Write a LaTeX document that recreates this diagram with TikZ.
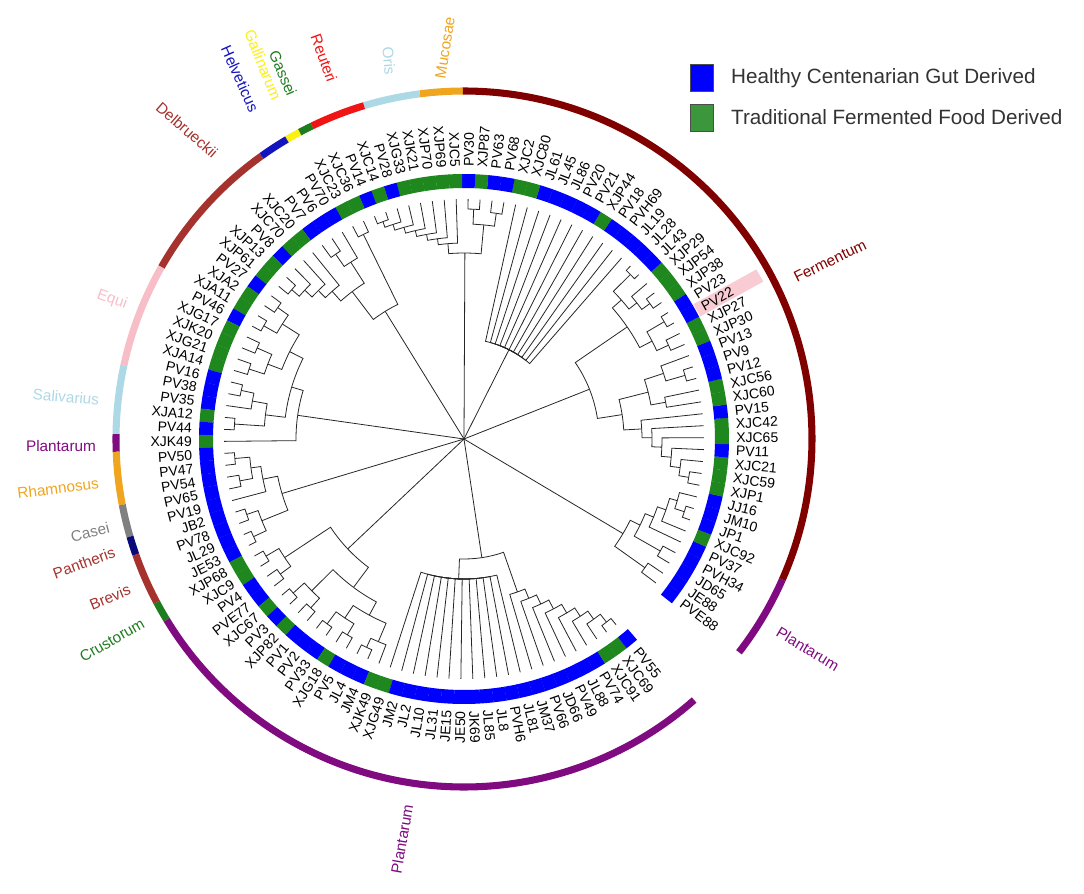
\documentclass[tikz,border=0pt]{standalone}
\usepackage{fontspec}
\setmainfont{Liberation Sans}
\usetikzlibrary{positioning}

\definecolor{gutblue}{RGB}{0,0,255}
\definecolor{foodgreen}{RGB}{30,135,30}
\definecolor{keygreen}{RGB}{60,150,60}
\definecolor{hlpink}{RGB}{248,204,210}
\definecolor{cmucosae}{RGB}{240,165,30}
\definecolor{coris}{RGB}{173,216,230}
\definecolor{creuteri}{RGB}{240,20,20}
\definecolor{cgassei}{RGB}{30,125,30}
\definecolor{cgallin}{RGB}{250,240,20}
\definecolor{chelvet}{RGB}{20,20,190}
\definecolor{cbrown}{RGB}{165,50,45}
\definecolor{cequi}{RGB}{248,190,200}
\definecolor{cplant}{RGB}{128,10,128}
\definecolor{ccasei}{RGB}{128,128,128}
\definecolor{cpanth}{RGB}{10,10,120}
\definecolor{cferm}{RGB}{128,0,0}

% leaf i sits at -36.87 + (i-1)*2.861 degrees
\newcommand{\twig}[4]{%
  \pgfmathsetmacro{\twA}{-36.87+(#1-1)*2.861}%
  \pgfmathsetmacro{\twB}{-36.87+(#3-1)*2.861}%
  \draw[branch] (\twA:#2) -- (\twA:#4) arc[start angle=\twA, end angle=\twB, radius=#4];}
\newcommand{\trunk}[2]{%
  \pgfmathsetmacro{\twA}{-36.87+(#1-1)*2.861}%
  \draw[branch] (0,0) -- (\twA:#2);}

\begin{document}
\begin{tikzpicture}[x=0.75pt,y=0.75pt,
  branch/.style={black!85,line width=0.6pt},
  srcb/.style={fill=gutblue},
  srcg/.style={fill=foodgreen},
  leaf/.style={inner sep=0pt,font=\fontsize{10.5}{12}\selectfont},
  grp/.style={line width=5.3pt},
  grplbl/.style={inner sep=0pt,font=\fontsize{11.5}{13}\selectfont},
  legbox/.style={draw=black!70,minimum width=17pt,minimum height=20pt,inner sep=0pt},
  legtxt/.style={font=\fontsize{15.5}{18}\selectfont,text=black!80}]
\useasboundingbox (-464,-454) rectangle (620,439);

% highlight behind PV22
\fill[hlpink,rotate=28.93] (266,-7) rectangle (338,7);

% source ring and strain names
\foreach \lbl/\src [count=\i] in {PVE88/b,JE88/b,JD65/b,PVH34/b,PV37/b,XJC92/g,JP1/b,JM10/b,JJ16/b,XJP1/g,
  XJC59/g,XJC21/g,PV11/b,XJC65/g,XJC42/g,PV15/b,XJC60/g,XJC56/g,PV12/b,PV9/b,
  PV13/b,XJP30/g,XJP27/g,PV22/b,PV23/b,XJP38/g,XJP54/g,XJP29/g,JL43/b,JL28/b,
  JL19/b,PVH69/b,PV18/b,XJP44/g,PV21/b,PV20/b,JL86/b,JL45/b,JL61/b,XJC80/g,
  XJC2/g,PV68/b,PV63/b,XJP87/g,PV30/b,XJC5/g,XJP69/g,XJP70/g,XJK21/g,XJG33/g,
  PV28/b,XJC14/g,PV14/b,XJC36/g,XJC23/g,PV70/b,PV6/b,PV7/b,XJC20/g,XJC70/g,
  PV8/b,XJP13/g,XJP61/g,PV27/b,XJA2/g,XJA11/g,PV46/b,XJG17/g,XJK20/g,XJG21/g,
  XJA14/g,PV16/b,PV38/b,PV35/b,XJA12/g,PV44/b,XJK49/g,PV50/b,PV47/b,PV54/b,
  PV65/b,PV19/b,JB2/b,PV78/b,JL29/b,JE53/b,XJP68/g,XJC9/g,PV4/b,PVE77/b,
  XJC67/g,PV3/b,XJP82/g,PV1/b,PV2/b,PV33/b,XJG18/g,PV5/b,JL4/b,JM4/b,
  XJK49/g,XJG49/g,JM2/b,JL2/b,JL10/b,JL31/b,JE15/b,JE50/b,JK69/b,JL85/b,
  JL8/b,PVH6/b,JL81/b,JM37/b,PV66/b,JD66/b,PV49/b,JL88/b,PV74/b,XJC91/g,
  XJC69/g,PV55/b}{
  \pgfmathsetmacro{\lang}{-36.87+(\i-1)*2.861}
  \fill[src\src] ({\lang-1.45}:251) arc[start angle={\lang-1.45},end angle={\lang+1.45},radius=251]
    -- ({\lang+1.45}:265) arc[start angle={\lang+1.45},end angle={\lang-1.45},radius=265] -- cycle;
  \pgfmathtruncatemacro{\rt}{(\lang<90)||(\lang>270)}
  \ifnum\rt=1
    \node[leaf,rotate=\lang,anchor=west] (l\i) at (\lang:272) {\lbl};
  \else
    \node[leaf,rotate=\lang-180,anchor=east] (l\i) at (\lang:272) {\lbl};
  \fi
}

% tree: leaf pairs
\foreach \p/\r in {1/222,3/226,7/232,10/228,17/205,19/230,22/225,24/232,26/230,29/234,
  42/228,44/230,52/232,54/228,57/225,62/228,64/228,66/230,
  68/226,70/226,72/228,75/230,78/230,80/228,83/230,85/232,87/230,89/228,91/230,
  93/228,95/230,97/228,99/230,121/232}{
  \twig{\p}{240}{\p+0.5}{\r}
  \twig{\p+1}{240}{\p+0.5}{\r}
}
% clade A
\twig{7.5}{232}{8.25}{222} \twig{9}{240}{8.25}{222}
\twig{6}{240}{7.13}{214} \twig{8.25}{222}{7.13}{214}
\twig{5}{240}{6.06}{205} \twig{7.13}{214}{6.06}{205}
\twig{3.5}{226}{4.78}{196} \twig{6.06}{205}{4.78}{196}
\twig{1.5}{222}{3.14}{185} \twig{4.78}{196}{3.14}{185}
\trunk{3.14}{185}
% clade B
\twig{10.5}{228}{11.25}{218} \twig{12}{240}{11.25}{218}
\twig{11.25}{218}{12.13}{208} \twig{13}{240}{12.13}{208}
\twig{12.13}{208}{13.06}{198} \twig{14}{240}{13.06}{198}
\twig{13.06}{198}{14.03}{188} \twig{15}{240}{14.03}{188}
\twig{14.03}{188}{15.02}{178} \twig{16}{240}{15.02}{178}
\twig{19.5}{230}{20.25}{210} \twig{21}{240}{20.25}{210}
\twig{17.5}{205}{18.88}{190} \twig{20.25}{210}{18.88}{190}
\twig{15.02}{178}{16.95}{160} \twig{18.88}{190}{16.95}{160}
\twig{22.5}{225}{23.5}{212} \twig{24.5}{232}{23.5}{212}
\twig{26.5}{230}{27.25}{220} \twig{28}{240}{27.25}{220}
\twig{27.25}{220}{28.38}{210} \twig{29.5}{234}{28.38}{210}
\twig{23.5}{212}{25.94}{198} \twig{28.38}{210}{25.94}{198}
\twig{16.95}{160}{21.45}{135} \twig{25.94}{198}{21.45}{135}
\trunk{21.45}{135}
% clade C
\foreach \k in {31,...,41} {\twig{\k}{240}{36}{100}}
\trunk{36}{100}
% clade T
\twig{42.5}{228}{43.5}{215} \twig{44.5}{230}{43.5}{215}
\twig{52.5}{232}{51.75}{226} \twig{51}{240}{51.75}{226}
\twig{51.75}{226}{50.88}{220} \twig{50}{240}{50.88}{220}
\twig{50.88}{220}{49.94}{214} \twig{49}{240}{49.94}{214}
\twig{49.94}{214}{48.97}{208} \twig{48}{240}{48.97}{208}
\twig{48.97}{208}{47.98}{202} \twig{47}{240}{47.98}{202}
\twig{47.98}{202}{46.99}{196} \twig{46}{240}{46.99}{196}
\twig{43.5}{215}{45.25}{186} \twig{46.99}{196}{45.25}{186}
\trunk{45.25}{186}
% clade U
\twig{62.5}{228}{61.75}{218} \twig{61}{240}{61.75}{218}
\twig{61.75}{218}{60.88}{208} \twig{60}{240}{60.88}{208}
\twig{60.88}{208}{59.94}{198} \twig{59}{240}{59.94}{198}
\twig{57.5}{225}{56.75}{210} \twig{56}{240}{56.75}{210}
\twig{56.75}{210}{58.34}{185} \twig{59.94}{198}{58.34}{185}
\twig{54.5}{228}{56.42}{150} \twig{58.34}{185}{56.42}{150}
\trunk{56.42}{150}
% clade L
\twig{64.5}{228}{65.5}{215} \twig{66.5}{230}{65.5}{215}
\twig{68.5}{226}{69.5}{210} \twig{70.5}{226}{69.5}{210}
\twig{65.5}{215}{67.5}{195} \twig{69.5}{210}{67.5}{195}
\twig{72.5}{228}{73.25}{215} \twig{74}{240}{73.25}{215}
\twig{73.25}{215}{74.38}{200} \twig{75.5}{230}{74.38}{200}
\twig{67.5}{195}{70.94}{180} \twig{74.38}{200}{70.94}{180}
\twig{70.94}{180}{73.97}{168} \twig{77}{240}{73.97}{168}
\trunk{73.97}{168}
% clade M
\twig{78.5}{230}{79.5}{215} \twig{80.5}{228}{79.5}{215}
\twig{79.5}{215}{80.75}{205} \twig{82}{240}{80.75}{205}
\twig{83.5}{230}{84.5}{218} \twig{85.5}{232}{84.5}{218}
\twig{80.75}{205}{82.63}{190} \twig{84.5}{218}{82.63}{190}
\trunk{82.63}{190}
% clade N
\twig{87.5}{230}{88.5}{215} \twig{89.5}{228}{88.5}{215}
\twig{91.5}{230}{92.5}{215} \twig{93.5}{228}{92.5}{215}
\twig{95.5}{230}{96.5}{215} \twig{97.5}{228}{96.5}{215}
\twig{99.5}{230}{100.25}{220} \twig{101}{240}{100.25}{220}
\twig{96.5}{215}{98.38}{200} \twig{100.25}{220}{98.38}{200}
\twig{92.5}{215}{95.44}{185} \twig{98.38}{200}{95.44}{185}
\twig{88.5}{215}{91.97}{160} \twig{95.44}{185}{91.97}{160}
\trunk{91.97}{160}
% clade O
\foreach \k in {102,...,113} {\twig{\k}{240}{107.5}{140}}
\twig{121.5}{232}{120.75}{222} \twig{120}{240}{120.75}{222}
\twig{120.75}{222}{119.88}{212} \twig{119}{240}{119.88}{212}
\twig{119.88}{212}{118.94}{202} \twig{118}{240}{118.94}{202}
\twig{118.94}{202}{117.97}{192} \twig{117}{240}{117.97}{192}
\twig{117.97}{192}{116.98}{182} \twig{116}{240}{116.98}{182}
\twig{116.98}{182}{115.99}{172} \twig{115}{240}{115.99}{172}
\twig{115.99}{172}{114.99}{162} \twig{114}{240}{114.99}{162}
\twig{107.5}{140}{111.25}{120} \twig{114.99}{162}{111.25}{120}
\trunk{111.25}{120}

% species arcs
\foreach \s/\e/\c in {90.2/97.3/cmucosae,97.3/106.7/coris,106.7/115.9/creuteri,115.9/118.2/cgassei,
  118.2/120.6/cgallin,120.6/125.6/chelvet,125.6/150.4/cbrown,150.4/167.8/cequi,
  167.8/179.2/coris,179.2/182.1/cplant,182.1/190.9/cmucosae,190.9/196.3/ccasei,
  196.3/199.4/cpanth,199.4/208.0/cbrown,208.0/211.3/cgassei,211.3/311.4/cplant,
  -37.8/-23.8/cplant,-23.8/90.2/cferm}
  \draw[grp,\c] (\s:348) arc[start angle=\s,end angle=\e,radius=348];

\node[grplbl,text=cbrown,rotate=-41] (gdelb) at (-277,309) {Delbrueckii};
\node[grplbl,text=chelvet,rotate=-66] (ghelv) at (-224,360) {Helveticus};
\node[grplbl,text=cgallin,rotate=-68] (ggall) at (-201,374) {Gallinarum};
\node[grplbl,text=cgassei,rotate=-67] (ggass) at (-181,366) {Gassei};
\node[grplbl,text=creuteri,rotate=-70] (greut) at (-140,381) {Reuteri};
\node[grplbl,text=coris,rotate=-85] (goris) at (-75,378) {Oris};
\node[grplbl,text=cmucosae,rotate=81] (gmuco) at (-19,391) {Mucosae};
\node[grplbl,text=cferm,rotate=26] (gferm) at (366,178) {Fermentum};
\node[grplbl,text=cplant,rotate=-31] (gplr) at (344,-210) {Plantarum};
\node[grplbl,text=cplant,rotate=80] (gplb) at (-62,-400) {Plantarum};
\node[grplbl,text=cgassei,rotate=30] (gcrus) at (-352,-201) {Crustorum};
\node[grplbl,text=cbrown,rotate=22] (gbrev) at (-354,-158) {Brevis};
\node[grplbl,text=cbrown,rotate=20] (gpant) at (-380,-124) {Pantheris};
\node[grplbl,text=ccasei,rotate=14] (gcase) at (-374,-93) {Casei};
\node[grplbl,text=cmucosae,rotate=7] (grham) at (-406,-49) {Rhamnosus};
\node[grplbl,text=cplant] (gpll) at (-403,-7) {Plantarum};
\node[grplbl,text=coris,rotate=-5] (gsali) at (-398,42) {Salivarius};
\node[grplbl,text=cequi,rotate=-20] (gequi) at (-352,139) {Equi};

% legend
\node[legbox,fill=gutblue] (kgut) at (237.5,361) {};
\node[legtxt,right=10pt of kgut] (tgut) {Healthy Centenarian Gut Derived};
\node[legbox,fill=keygreen] (kfood) at (237.5,321.5) {};
\node[legtxt,right=10pt of kfood] (tfood) {Traditional Fermented Food Derived};
\end{tikzpicture}
\end{document}
